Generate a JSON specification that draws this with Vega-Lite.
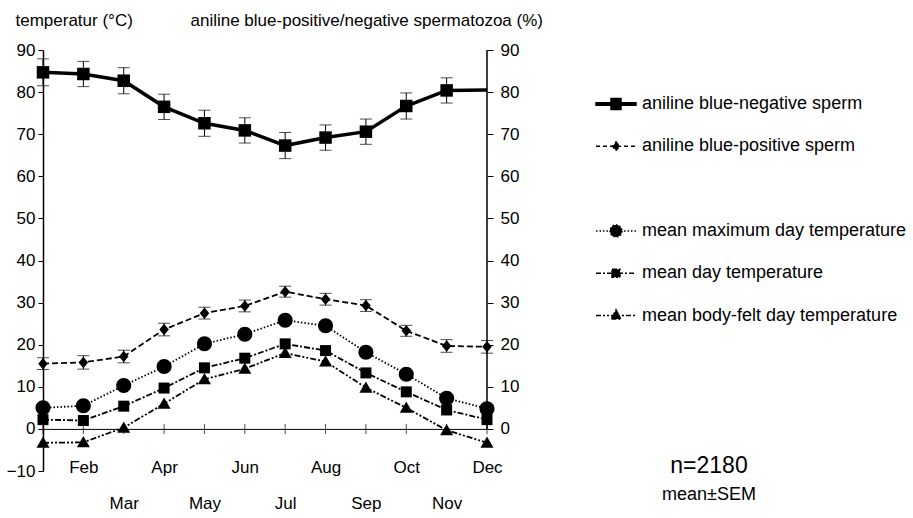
{
  "$schema": "https://vega.github.io/schema/vega-lite/v6.json",
  "width": 444,
  "height": 421,
  "autosize": {"type": "none"},
  "padding": {"left": 43, "top": 50, "right": 426, "bottom": 47},
  "background": "white",
  "config": {
    "font": "Liberation Sans",
    "view": {"stroke": null},
    "axis": {"grid": false, "labelColor": "black", "titleColor": "black", "domainColor": "black", "tickColor": "black", "labelFontSize": 17, "titleFontSize": 17, "titleFontWeight": "normal"}
  },
  "title": {
    "text": "n=2180",
    "subtitle": "mean±SEM",
    "orient": "bottom",
    "anchor": "start",
    "frame": "group",
    "align": "center",
    "dx": 666,
    "dy": -57,
    "offset": 0,
    "fontSize": 23,
    "fontWeight": "normal",
    "color": "black",
    "subtitleFontSize": 18,
    "subtitleColor": "black",
    "subtitlePadding": 8
  },
  "data": {
    "values": [
      {"m": "Jan", "s": "aniline blue-negative sperm", "v": 84.7, "e": 3.2},
      {"m": "Feb", "s": "aniline blue-negative sperm", "v": 84.3, "e": 3.0},
      {"m": "Mar", "s": "aniline blue-negative sperm", "v": 82.7, "e": 3.1},
      {"m": "Apr", "s": "aniline blue-negative sperm", "v": 76.5, "e": 3.0},
      {"m": "May", "s": "aniline blue-negative sperm", "v": 72.6, "e": 3.1},
      {"m": "Jun", "s": "aniline blue-negative sperm", "v": 70.9, "e": 3.0},
      {"m": "Jul", "s": "aniline blue-negative sperm", "v": 67.3, "e": 3.1},
      {"m": "Aug", "s": "aniline blue-negative sperm", "v": 69.2, "e": 3.0},
      {"m": "Sep", "s": "aniline blue-negative sperm", "v": 70.6, "e": 3.0},
      {"m": "Oct", "s": "aniline blue-negative sperm", "v": 76.7, "e": 3.1},
      {"m": "Nov", "s": "aniline blue-negative sperm", "v": 80.4, "e": 3.0},
      {"m": "Dec", "s": "aniline blue-negative sperm", "v": 80.5, "e": null},
      {"m": "Jan", "s": "aniline blue-positive sperm", "v": 15.5, "e": 1.4},
      {"m": "Feb", "s": "aniline blue-positive sperm", "v": 15.8, "e": 1.6},
      {"m": "Mar", "s": "aniline blue-positive sperm", "v": 17.2, "e": 1.5},
      {"m": "Apr", "s": "aniline blue-positive sperm", "v": 23.6, "e": 1.5},
      {"m": "May", "s": "aniline blue-positive sperm", "v": 27.5, "e": 1.4},
      {"m": "Jun", "s": "aniline blue-positive sperm", "v": 29.2, "e": 1.4},
      {"m": "Jul", "s": "aniline blue-positive sperm", "v": 32.6, "e": 1.3},
      {"m": "Aug", "s": "aniline blue-positive sperm", "v": 30.8, "e": 1.4},
      {"m": "Sep", "s": "aniline blue-positive sperm", "v": 29.3, "e": 1.4},
      {"m": "Oct", "s": "aniline blue-positive sperm", "v": 23.3, "e": 1.3},
      {"m": "Nov", "s": "aniline blue-positive sperm", "v": 19.7, "e": 1.5},
      {"m": "Dec", "s": "aniline blue-positive sperm", "v": 19.5, "e": 1.5},
      {"m": "Jan", "s": "mean maximum day temperature", "v": 5.0, "e": null},
      {"m": "Feb", "s": "mean maximum day temperature", "v": 5.5, "e": null},
      {"m": "Mar", "s": "mean maximum day temperature", "v": 10.3, "e": null},
      {"m": "Apr", "s": "mean maximum day temperature", "v": 14.8, "e": null},
      {"m": "May", "s": "mean maximum day temperature", "v": 20.2, "e": null},
      {"m": "Jun", "s": "mean maximum day temperature", "v": 22.5, "e": null},
      {"m": "Jul", "s": "mean maximum day temperature", "v": 25.8, "e": null},
      {"m": "Aug", "s": "mean maximum day temperature", "v": 24.5, "e": null},
      {"m": "Sep", "s": "mean maximum day temperature", "v": 18.2, "e": null},
      {"m": "Oct", "s": "mean maximum day temperature", "v": 13.0, "e": null},
      {"m": "Nov", "s": "mean maximum day temperature", "v": 7.3, "e": null},
      {"m": "Dec", "s": "mean maximum day temperature", "v": 4.8, "e": null},
      {"m": "Jan", "s": "mean day temperature", "v": 2.2, "e": null},
      {"m": "Feb", "s": "mean day temperature", "v": 2.0, "e": null},
      {"m": "Mar", "s": "mean day temperature", "v": 5.4, "e": null},
      {"m": "Apr", "s": "mean day temperature", "v": 9.7, "e": null},
      {"m": "May", "s": "mean day temperature", "v": 14.5, "e": null},
      {"m": "Jun", "s": "mean day temperature", "v": 16.8, "e": null},
      {"m": "Jul", "s": "mean day temperature", "v": 20.2, "e": null},
      {"m": "Aug", "s": "mean day temperature", "v": 18.6, "e": null},
      {"m": "Sep", "s": "mean day temperature", "v": 13.3, "e": null},
      {"m": "Oct", "s": "mean day temperature", "v": 8.8, "e": null},
      {"m": "Nov", "s": "mean day temperature", "v": 4.5, "e": null},
      {"m": "Dec", "s": "mean day temperature", "v": 2.2, "e": null},
      {"m": "Jan", "s": "mean body-felt day temperature", "v": -3.3, "e": null},
      {"m": "Feb", "s": "mean body-felt day temperature", "v": -3.2, "e": null},
      {"m": "Mar", "s": "mean body-felt day temperature", "v": 0.3, "e": null},
      {"m": "Apr", "s": "mean body-felt day temperature", "v": 6.0, "e": null},
      {"m": "May", "s": "mean body-felt day temperature", "v": 11.8, "e": null},
      {"m": "Jun", "s": "mean body-felt day temperature", "v": 14.3, "e": null},
      {"m": "Jul", "s": "mean body-felt day temperature", "v": 18.0, "e": null},
      {"m": "Aug", "s": "mean body-felt day temperature", "v": 16.0, "e": null},
      {"m": "Sep", "s": "mean body-felt day temperature", "v": 9.8, "e": null},
      {"m": "Oct", "s": "mean body-felt day temperature", "v": 5.0, "e": null},
      {"m": "Nov", "s": "mean body-felt day temperature", "v": -0.3, "e": null},
      {"m": "Dec", "s": "mean body-felt day temperature", "v": -3.3, "e": null}
    ]
  },
  "encoding": {
    "x": {
      "field": "m",
      "type": "ordinal",
      "scale": {"type": "point", "padding": 0, "domain": ["Jan", "Feb", "Mar", "Apr", "May", "Jun", "Jul", "Aug", "Sep", "Oct", "Nov", "Dec"]},
      "axis": {
        "title": null,
        "offset": -42.1,
        "domainColor": "black",
        "domainWidth": 1,
        "ticks": false,
        "tickSize": 0,
        "labelPadding": 31,
        "labelFontSize": 17,
        "labelAngle": 0,
        "labelBaseline": "top",
        "labelLineHeight": 36,
        "labelOverlap": false,
        "labelBound": false,
        "labelExpr": "datum.value == 'Jan' ? '' : (indexof(['Feb','Apr','Jun','Aug','Oct','Dec'], datum.value) >= 0 ? datum.value : ['', datum.value])"
      }
    }
  },
  "layer": [
    {
      "transform": [{"filter": "datum.s == 'mean day temperature'"}],
      "mark": {"type": "tick", "orient": "vertical", "size": 10, "thickness": 1, "color": "black"},
      "encoding": {
        "y": {"datum": 0, "type": "quantitative", "scale": {"domain": [-10, 90], "nice": false}, "axis": null}
      }
    },
    {
      "transform": [{"filter": "isValid(datum.e)"}],
      "mark": {"type": "errorbar", "ticks": {"size": 12, "thickness": 1, "color": "black"}, "rule": {"strokeWidth": 1, "color": "black"}},
      "encoding": {
        "y": {"field": "v", "type": "quantitative", "scale": {"domain": [-10, 90], "nice": false}, "axis": null},
        "yError": {"field": "e"}
      }
    },
    {
      "transform": [{"filter": "datum.s != 'aniline blue-negative sperm'"}],
      "mark": {"type": "line", "strokeWidth": 1.8},
      "encoding": {
        "y": {"field": "v", "type": "quantitative", "scale": {"domain": [-10, 90], "nice": false}, "axis": null},
        "color": {
          "field": "s",
          "type": "nominal",
          "scale": {"domain": ["aniline blue-negative sperm", "aniline blue-positive sperm", " ", "mean maximum day temperature", "mean day temperature", "mean body-felt day temperature"], "range": ["black", "black", "black", "black", "black", "black"]},
          "legend": {
            "orient": "none", "legendX": 552, "legendY": 33, "title": null, "padding": 0,
            "labelFontSize": 18, "labelColor": "black", "labelLimit": 400, "labelOffset": 5, "rowPadding": 12.3, "symbolSize": 1600, "symbolStrokeWidth": 1.5,
            "encode": {"symbols": {"update": {
              "shape": {"signal": "datum.value == 'aniline blue-negative sperm' ? 'M-1,-0.06H1V0.06H-1ZM-0.25,-0.28H0.25V0.28H-0.25Z' : datum.value == 'aniline blue-positive sperm' ? 'M-1,0H1M0,-0.22L0.17,0L0,0.22L-0.17,0Z' : datum.value == 'mean maximum day temperature' ? 'M-1,0H1M0.3,0A0.3,0.3,0,1,1,-0.3,0A0.3,0.3,0,1,1,0.3,0Z' : datum.value == 'mean day temperature' ? 'M-1,0H1M-0.2,-0.2H0.2V0.2H-0.2Z' : datum.value == 'mean body-felt day temperature' ? 'M-1,0H1M0,-0.28L0.25,0.18L-0.25,0.18Z' : 'M-1,0H1'"},
              "size": {"value": 1600},
              "fill": {"value": "black"},
              "stroke": {"value": "black"},
              "strokeWidth": {"value": 1.5},
              "strokeDash": {"signal": "datum.value == 'aniline blue-positive sperm' ? [4,3] : datum.value == 'mean maximum day temperature' ? [1.5,2] : datum.value == 'mean day temperature' ? [5,2,2,2] : datum.value == 'mean body-felt day temperature' ? [5,2,2,2,2,2] : []"},
              "opacity": {"signal": "datum.value == ' ' ? 0 : 1"}
            }}}
          }
        },
        "strokeDash": {
          "field": "s",
          "type": "nominal",
          "scale": {"domain": ["aniline blue-positive sperm", "mean maximum day temperature", "mean day temperature", "mean body-felt day temperature"], "range": [[6, 3], [1.5, 2], [6, 2, 2, 2], [6, 2, 2, 2, 2, 2]]},
          "legend": null
        }
      }
    },
    {
      "transform": [{"filter": "datum.s == 'aniline blue-negative sperm'"}],
      "mark": {"type": "line", "strokeWidth": 3.5},
      "encoding": {
        "y": {"field": "v", "type": "quantitative", "scale": {"domain": [-10, 90], "nice": false}, "axis": null},
        "color": {
          "field": "s",
          "type": "nominal",
          "scale": {"domain": ["aniline blue-negative sperm", "aniline blue-positive sperm", " ", "mean maximum day temperature", "mean day temperature", "mean body-felt day temperature"], "range": ["black", "black", "black", "black", "black", "black"]},
          "legend": {
            "orient": "none", "legendX": 552, "legendY": 33, "title": null, "padding": 0,
            "labelFontSize": 18, "labelColor": "black", "labelLimit": 400, "labelOffset": 5, "rowPadding": 12.3, "symbolSize": 1600, "symbolStrokeWidth": 1.5,
            "encode": {"symbols": {"update": {
              "shape": {"signal": "datum.value == 'aniline blue-negative sperm' ? 'M-1,-0.06H1V0.06H-1ZM-0.25,-0.28H0.25V0.28H-0.25Z' : datum.value == 'aniline blue-positive sperm' ? 'M-1,0H1M0,-0.22L0.17,0L0,0.22L-0.17,0Z' : datum.value == 'mean maximum day temperature' ? 'M-1,0H1M0.3,0A0.3,0.3,0,1,1,-0.3,0A0.3,0.3,0,1,1,0.3,0Z' : datum.value == 'mean day temperature' ? 'M-1,0H1M-0.2,-0.2H0.2V0.2H-0.2Z' : datum.value == 'mean body-felt day temperature' ? 'M-1,0H1M0,-0.28L0.25,0.18L-0.25,0.18Z' : 'M-1,0H1'"},
              "size": {"value": 1600},
              "fill": {"value": "black"},
              "stroke": {"value": "black"},
              "strokeWidth": {"value": 1.5},
              "strokeDash": {"signal": "datum.value == 'aniline blue-positive sperm' ? [4,3] : datum.value == 'mean maximum day temperature' ? [1.5,2] : datum.value == 'mean day temperature' ? [5,2,2,2] : datum.value == 'mean body-felt day temperature' ? [5,2,2,2,2,2] : []"},
              "opacity": {"signal": "datum.value == ' ' ? 0 : 1"}
            }}}
          }
        }
      }
    },
    {
      "transform": [{"filter": "!(datum.s == 'aniline blue-negative sperm' && datum.m == 'Dec')"}],
      "mark": {"type": "point", "filled": true, "color": "black", "size": 100, "opacity": 1, "strokeWidth": 0},
      "encoding": {
        "y": {
          "field": "v", "type": "quantitative", "scale": {"domain": [-10, 90], "nice": false},
          "axis": {
            "orient": "left", "values": [-10, 0, 10, 20, 30, 40, 50, 60, 70, 80, 90],
            "title": "temperatur (°C)", "titleAngle": 0, "titleAlign": "left", "titleBaseline": "middle",
            "titleX": -28, "titleY": -30, "titleFontSize": 17,
            "labelFontSize": 17, "tickSize": 5, "labelPadding": 3, "domainWidth": 1.5
          }
        },
        "shape": {
          "field": "s",
          "type": "nominal",
          "scale": {"domain": ["aniline blue-negative sperm", "aniline blue-positive sperm", "mean maximum day temperature", "mean day temperature", "mean body-felt day temperature"], "range": ["M-1.25,-1.25H1.25V1.25H-1.25Z", "M0,-1.15L0.95,0L0,1.15L-0.95,0Z", "M1.5,0A1.5,1.5,0,1,1,-1.5,0A1.5,1.5,0,1,1,1.5,0Z", "M-1.1,-1.1H1.1V1.1H-1.1Z", "M0,-1.25L1.3,1.0L-1.3,1.0Z"]},
          "legend": null
        }
      }
    },
    {
      "data": {"values": [{}]},
      "mark": {"type": "rule", "color": "black", "strokeWidth": 1.5},
      "encoding": {
        "x": {"datum": "Dec", "type": "ordinal"},
        "y": {
          "datum": 0, "type": "quantitative", "scale": {"domain": [-10, 90], "nice": false},
          "axis": {
            "orient": "right", "values": [0, 10, 20, 30, 40, 50, 60, 70, 80, 90], "domain": false,
            "title": "aniline blue-positive/negative spermatozoa (%)", "titleAngle": 0, "titleAlign": "left", "titleBaseline": "middle",
            "titleX": -297, "titleY": -30, "titleFontSize": 17,
            "labelFontSize": 17, "tickSize": 6, "labelPadding": 7
          }
        },
        "y2": {"datum": 90}
      }
    }
  ],
  "resolve": {"axis": {"y": "independent"}}
}
